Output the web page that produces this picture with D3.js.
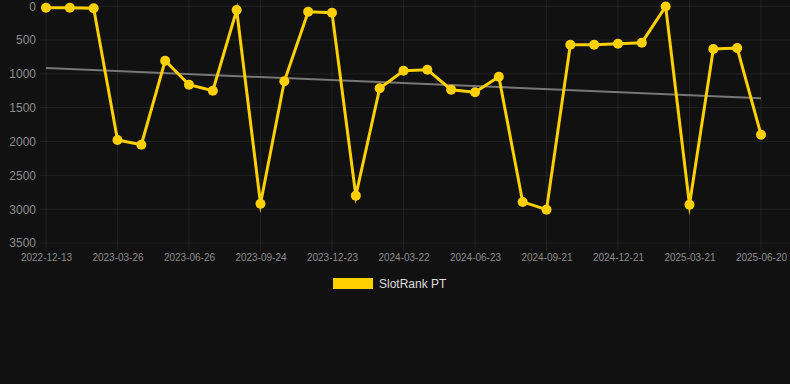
<!DOCTYPE html>
<html>
<head>
<meta charset="utf-8">
<script src="https://cdn.jsdelivr.net/npm/d3@7"></script>
<style>
  html, body { margin: 0; padding: 0; background: #111111; }
  svg { display: block; font-family: "Liberation Sans", Arial, sans-serif; }
</style>
</head>
<body>
<svg id="chart" width="790" height="384"></svg>
<script>
const dates = [
  "2022-12-13", "2023-01-15", "2023-02-20", "2023-03-26", "2023-04-27", "2023-05-27",
  "2023-06-26", "2023-07-26", "2023-08-25", "2023-09-24", "2023-10-24", "2023-11-23",
  "2023-12-23", "2024-01-22", "2024-02-21", "2024-03-22", "2024-04-22", "2024-05-23",
  "2024-06-23", "2024-07-23", "2024-08-22", "2024-09-21", "2024-10-21", "2024-11-20",
  "2024-12-21", "2025-01-20", "2025-02-19", "2025-03-21", "2025-04-20", "2025-05-21",
  "2025-06-20"
]
const ranks = [
  22, 22, 31, 1977, 2047, 805, 1160, 1249, 56, 2919, 1110, 81, 96, 2800, 1213, 953,
  938, 1234, 1272, 1042, 2893, 3007, 569, 569, 554, 539, 5, 2933, 632, 618, 1899
]
const yTicks = [0, 500, 1000, 1500, 2000, 2500, 3000, 3500]
const seriesName = "SlotRank PT"

const svg = d3.select("#chart")
const width = 790

const scale = {
    x: d3.scalePoint(dates, [46, 761]),
    y: d3.scaleLinear([0, 3500], [6.2, 243]),
}

const gridColor = "rgba(255,255,255,0.07)"
const labelColor = "#8c8c8c"
const lineColor = "#ffd000"

// vertical grid only at the labelled dates (every third)
const shownDates = dates.filter((d, i) => i % 3 === 0)

const grid = svg.append("g")
grid.selectAll("line.h")
    .data(yTicks)
    .enter()
    .append("line")
    .attr("x1", 40)
    .attr("x2", width)
    .attr("y1", d => scale.y(d))
    .attr("y2", d => scale.y(d))
    .attr("stroke", gridColor)
grid.selectAll("line.v")
    .data(shownDates)
    .enter()
    .append("line")
    .attr("x1", d => scale.x(d))
    .attr("x2", d => scale.x(d))
    .attr("y1", 0)
    .attr("y2", 251)
    .attr("stroke", gridColor)

const yAxis = svg.append("g")
    .attr("transform", "translate(40, 0)")
    .call(d3.axisLeft(scale.y).tickValues(yTicks).tickFormat(d3.format("d")).tickSize(0).tickPadding(4))
yAxis.select(".domain").remove()
yAxis.selectAll("text")
    .attr("fill", labelColor)
    .attr("font-size", 12)
    .attr("font-family", "Liberation Sans, Arial, sans-serif")

const xAxis = svg.append("g")
    .attr("transform", "translate(0, 251)")
    .call(d3.axisBottom(scale.x).tickValues(shownDates).tickSize(0).tickPadding(3))
xAxis.select(".domain").remove()
xAxis.selectAll("text")
    .attr("fill", labelColor)
    .attr("font-size", 10)
    .attr("font-family", "Liberation Sans, Arial, sans-serif")

// least squares trend over index
const n = ranks.length
const meanX = (n - 1) / 2
const meanY = d3.mean(ranks)
const slope = d3.sum(ranks, (v, i) => (i - meanX) * (v - meanY)) / d3.sum(ranks, (v, i) => (i - meanX) ** 2)
const intercept = meanY - slope * meanX

svg.append("line")
    .attr("x1", scale.x(dates[0]))
    .attr("y1", scale.y(intercept))
    .attr("x2", scale.x(dates[n - 1]))
    .attr("y2", scale.y(intercept + slope * (n - 1)))
    .attr("stroke", "#777777")
    .attr("stroke-width", 2)

const line = d3.line()
    .x((v, i) => scale.x(dates[i]))
    .y(v => scale.y(v))

svg.append("path")
    .datum(ranks)
    .attr("d", line)
    .attr("fill", "none")
    .attr("stroke", lineColor)
    .attr("stroke-width", 3)
    .attr("stroke-linejoin", "miter")
    .attr("stroke-miterlimit", 10)

svg.selectAll("circle")
    .data(ranks)
    .enter()
    .append("circle")
    .attr("cx", (v, i) => scale.x(dates[i]))
    .attr("cy", v => scale.y(v))
    .attr("r", 5)
    .attr("fill", lineColor)

const legend = svg.append("g")
legend.append("rect")
    .attr("x", 333)
    .attr("y", 278)
    .attr("width", 40)
    .attr("height", 11)
    .attr("fill", lineColor)
legend.append("text")
    .attr("x", 379)
    .attr("y", 284)
    .attr("dy", "0.35em")
    .attr("fill", "#dddddd")
    .attr("font-size", 12)
    .text(seriesName)
</script>
</body>
</html>
